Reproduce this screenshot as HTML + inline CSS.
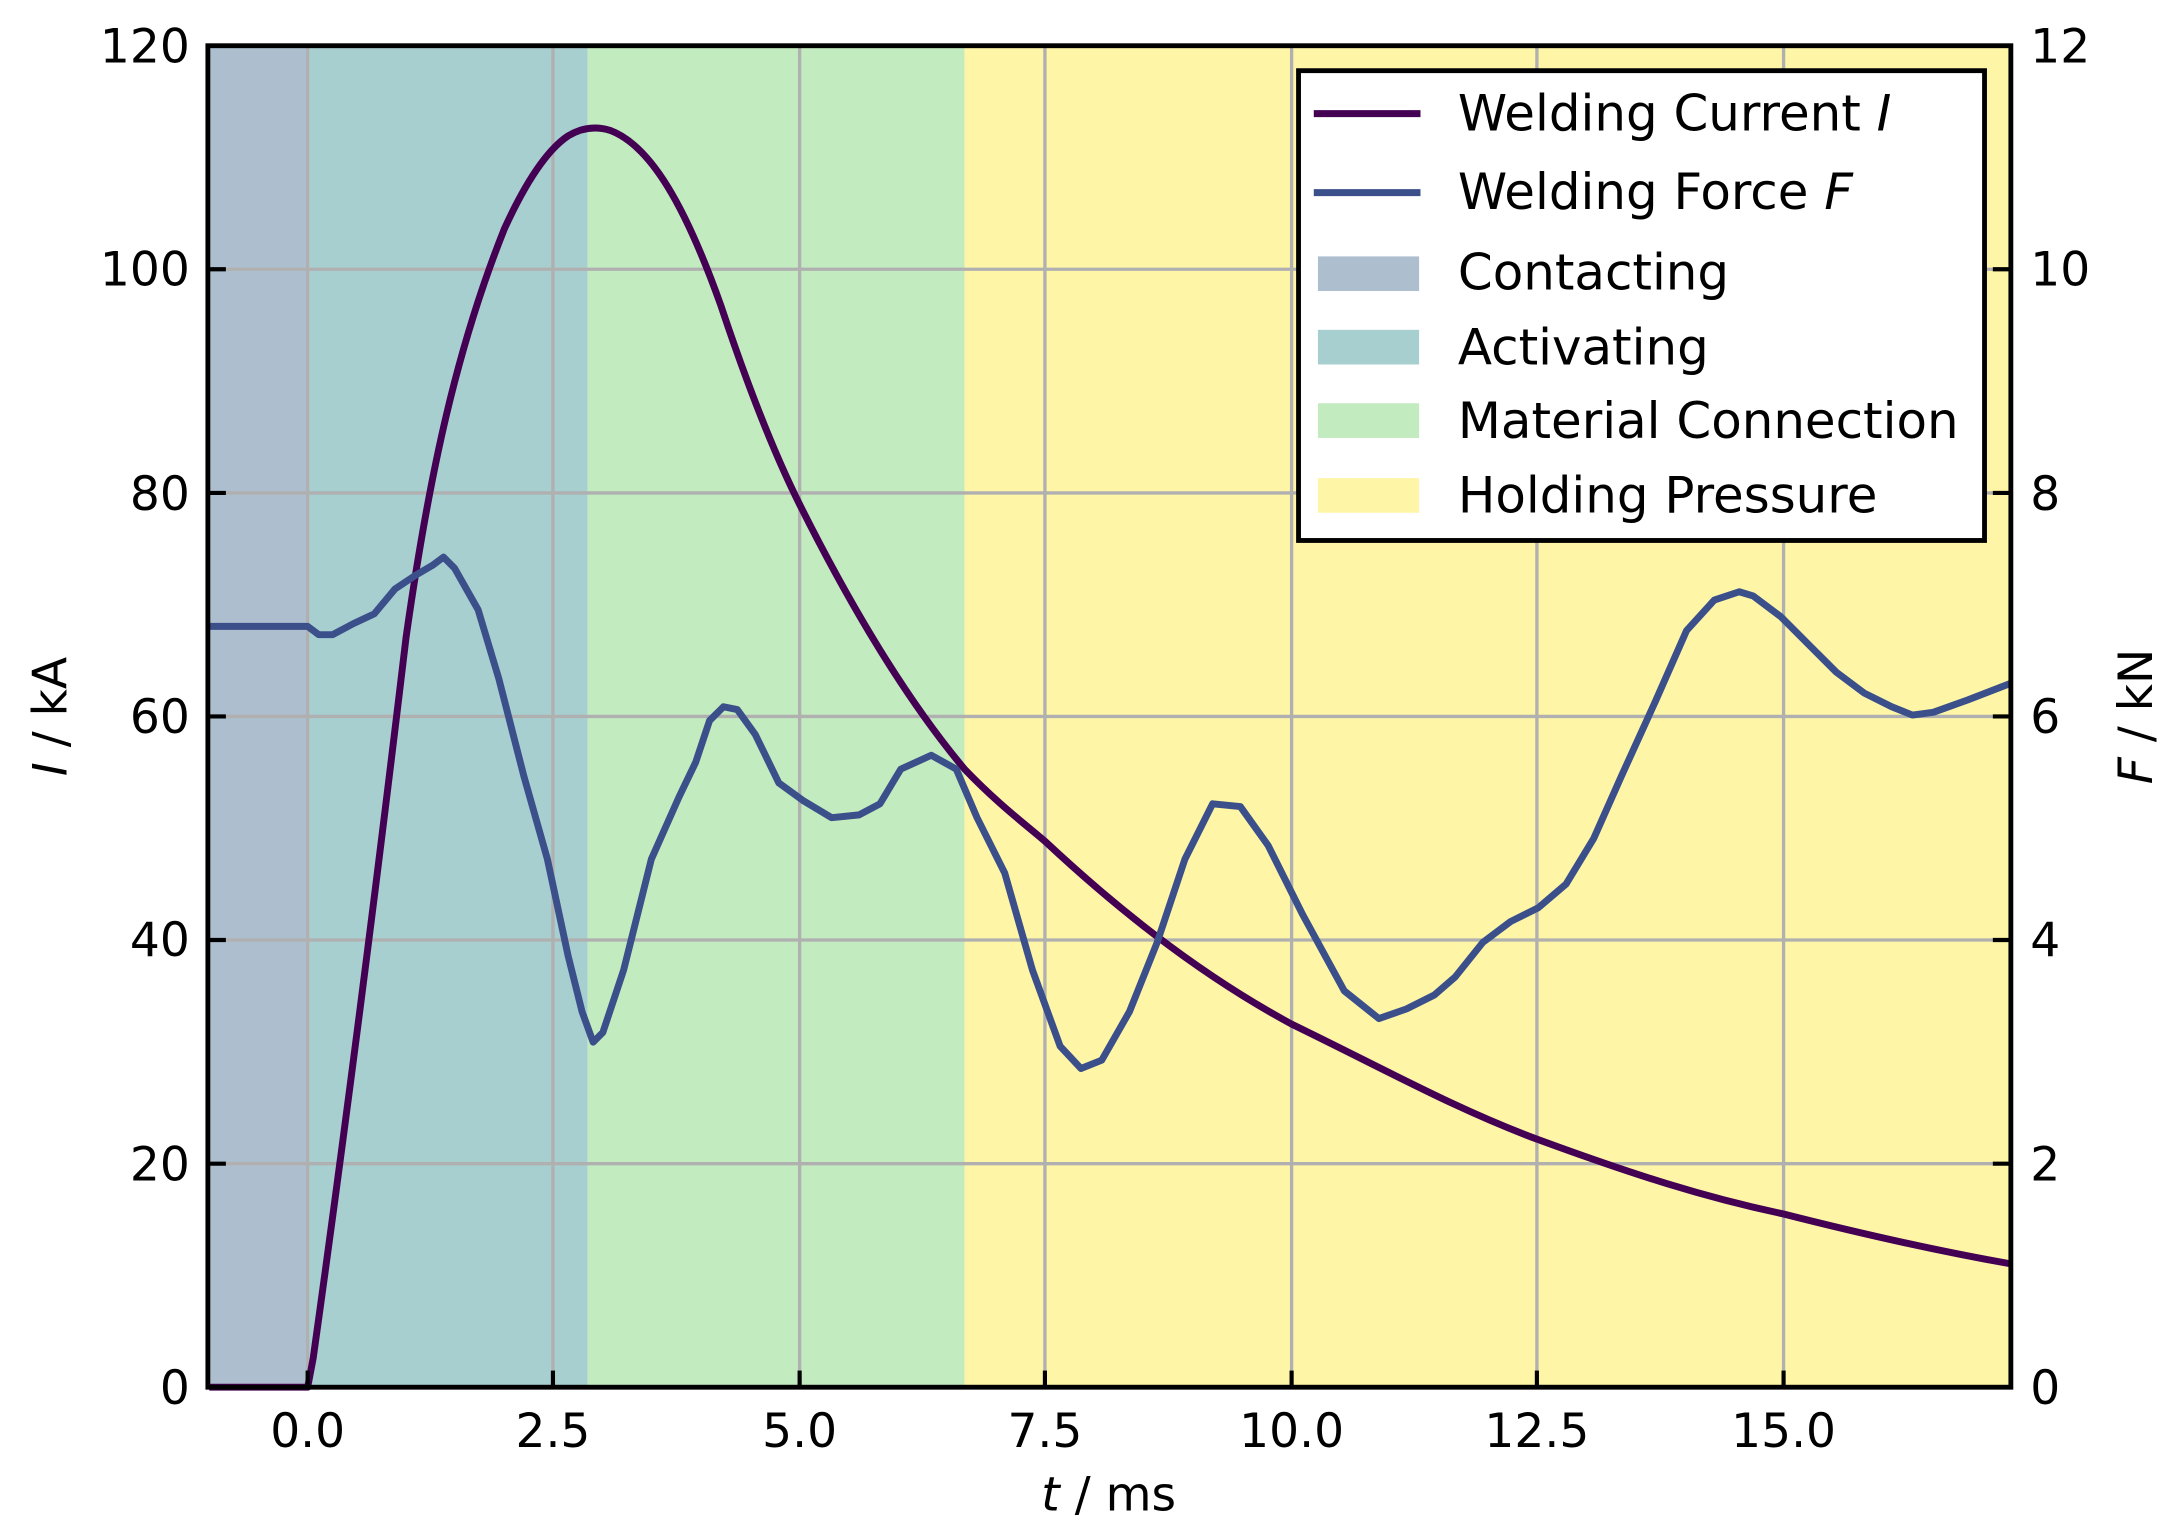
<!DOCTYPE html>
<html><head><meta charset="utf-8"><style>html,body{margin:0;padding:0;background:#fff}svg{display:block}</style></head>
<body>
<svg width="2173" height="1533" viewBox="0 0 1568 1106.2" preserveAspectRatio="none" xmlns="http://www.w3.org/2000/svg" font-family="DejaVu Sans, Liberation Sans, sans-serif">
<rect x="150" y="33" width="72" height="968" fill="#adbfcf"/>
<rect x="222" y="33" width="202" height="968" fill="#a7cfd0"/>
<rect x="424" y="33" width="272" height="968" fill="#c2ebbf"/>
<rect x="696" y="33" width="755" height="968" fill="#fef5a7"/>
<g stroke="#b0b0b0" stroke-width="2.4">
<line x1="222" y1="33" x2="222" y2="1001"/><line x1="399" y1="33" x2="399" y2="1001"/><line x1="577" y1="33" x2="577" y2="1001"/><line x1="754" y1="33" x2="754" y2="1001"/><line x1="932" y1="33" x2="932" y2="1001"/><line x1="1109" y1="33" x2="1109" y2="1001"/><line x1="1287" y1="33" x2="1287" y2="1001"/>
<line x1="150" y1="194.3" x2="1451" y2="194.3"/><line x1="150" y1="355.7" x2="1451" y2="355.7"/><line x1="150" y1="517" x2="1451" y2="517"/><line x1="150" y1="678.3" x2="1451" y2="678.3"/><line x1="150" y1="839.7" x2="1451" y2="839.7"/>
</g>
<path fill="none" stroke="#440154" stroke-width="5" stroke-linejoin="round" d="M151,1001 L222,1001 L226,980 C240,880 262,720 293,460 C310,340 330,250 364,165 C380,130 395,108 410,98 C420,92 430,91 440,94 C470,105 495,150 520,220 C540,280 560,330 577,364 C610,430 650,500 696,555 C720,580 740,595 754,607 C800,650 860,700 932,739 C1000,772 1050,800 1109,822 C1180,848 1230,864 1287,876 C1350,892 1400,903 1451,912"/>
<path fill="none" stroke="#3b4f8a" stroke-width="5" stroke-linejoin="round" d="M151,452 L222,452 L230,458 L240,458 L255,450 L270,443 L285,425 L300,415 L312,408 L320,402 L328,410 L345,440 L360,490 L378,560 L395,620 L410,690 L420,730 L428,752 L435,745 L450,700 L470,620 L490,575 L502,550 L512,520 L522,510 L532,512 L545,530 L562,565 L580,578 L600,590 L620,588 L635,580 L650,555 L672,545 L690,555 L705,590 L725,630 L745,700 L765,755 L780,771 L795,765 L815,730 L835,680 L855,620 L875,580 L895,582 L915,610 L940,660 L970,715 L995,735 L1015,728 L1035,718 L1050,705 L1070,680 L1090,665 L1110,655 L1130,638 L1150,605 L1170,560 L1195,505 L1217,455 L1237,433 L1255,427 L1265,430 L1285,445 L1305,465 L1325,485 L1345,500 L1365,510 L1380,516 L1395,514 L1420,505 L1451,493"/>
<g stroke="#000" stroke-width="3">
<line x1="222" y1="1001" x2="222" y2="989"/><line x1="399" y1="1001" x2="399" y2="989"/><line x1="577" y1="1001" x2="577" y2="989"/><line x1="754" y1="1001" x2="754" y2="989"/><line x1="932" y1="1001" x2="932" y2="989"/><line x1="1109" y1="1001" x2="1109" y2="989"/><line x1="1287" y1="1001" x2="1287" y2="989"/>
<line x1="150" y1="194.3" x2="163" y2="194.3"/><line x1="150" y1="355.7" x2="163" y2="355.7"/><line x1="150" y1="517" x2="163" y2="517"/><line x1="150" y1="678.3" x2="163" y2="678.3"/><line x1="150" y1="839.7" x2="163" y2="839.7"/>
<line x1="1451" y1="194.3" x2="1438" y2="194.3"/><line x1="1451" y1="355.7" x2="1438" y2="355.7"/><line x1="1451" y1="517" x2="1438" y2="517"/><line x1="1451" y1="678.3" x2="1438" y2="678.3"/><line x1="1451" y1="839.7" x2="1438" y2="839.7"/>
</g>
<rect x="150" y="33" width="1301" height="968" fill="none" stroke="#000" stroke-width="3.5"/>
<g font-size="34" fill="#000">
<g text-anchor="end"><text x="137" y="45">120</text><text x="137" y="206">100</text><text x="137" y="368">80</text><text x="137" y="529">60</text><text x="137" y="690">40</text><text x="137" y="852">20</text><text x="137" y="1013">0</text></g>
<g text-anchor="start"><text x="1465" y="45">12</text><text x="1465" y="206">10</text><text x="1465" y="368">8</text><text x="1465" y="529">6</text><text x="1465" y="690">4</text><text x="1465" y="852">2</text><text x="1465" y="1013">0</text></g>
<g text-anchor="middle"><text x="222" y="1044">0.0</text><text x="399" y="1044">2.5</text><text x="577" y="1044">5.0</text><text x="754" y="1044">7.5</text><text x="932" y="1044">10.0</text><text x="1109" y="1044">12.5</text><text x="1287" y="1044">15.0</text></g>
<text x="800" y="1090" text-anchor="middle"><tspan font-style="italic">t</tspan> / ms</text>
<text transform="translate(48,517) rotate(-90)" text-anchor="middle"><tspan font-style="italic">I</tspan> / kA</text>
<text transform="translate(1553,517) rotate(-90)" text-anchor="middle"><tspan font-style="italic">F</tspan> / kN</text>
</g>
<rect x="937" y="51" width="495" height="339" fill="#fff" stroke="#000" stroke-width="3.5"/>
<line x1="948" y1="82" x2="1025" y2="82" stroke="#440154" stroke-width="5"/>
<line x1="948" y1="139" x2="1025" y2="139" stroke="#3b4f8a" stroke-width="5"/>
<rect x="951" y="185" width="73" height="25" fill="#adbfcf"/>
<rect x="951" y="238" width="73" height="25" fill="#a7cfd0"/>
<rect x="951" y="291" width="73" height="25" fill="#c2ebbf"/>
<rect x="951" y="345" width="73" height="25" fill="#fef5a7"/>
<g font-size="36" fill="#000">
<text x="1052" y="94">Welding Current <tspan font-style="italic">I</tspan></text>
<text x="1052" y="151">Welding Force <tspan font-style="italic">F</tspan></text>
<text x="1052" y="209">Contacting</text>
<text x="1052" y="263">Activating</text>
<text x="1052" y="316">Material Connection</text>
<text x="1052" y="370">Holding Pressure</text>
</g>
</svg>
</body></html>
